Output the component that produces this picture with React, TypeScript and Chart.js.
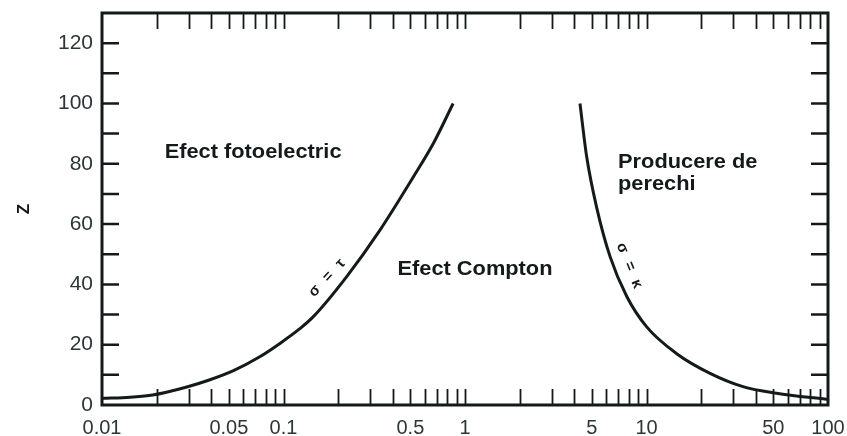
import React, { useEffect, useRef } from 'react';
import { Chart, registerables } from 'chart.js';

Chart.register(...registerables);

// Boundary σ = τ (photoelectric / Compton): photon energy (MeV) vs Z
const TAU_ENERGY = [0.01, 0.0143, 0.019, 0.029, 0.039, 0.053, 0.074, 0.096, 0.123, 0.146, 0.223, 0.34, 0.52, 0.67, 0.86];
const TAU_Z = [2.2, 2.6, 3.3, 5.9, 8.3, 11.4, 16, 20.5, 25.3, 29.3, 42.6, 58, 75.7, 86.8, 100];

// Boundary σ = κ (Compton / pair production)
const KAPPA_ENERGY = [4.3, 4.68, 5.3, 6.3, 7.8, 10, 14.6, 22.4, 34, 52, 100];
const KAPPA_Z = [100, 82.4, 65.8, 49.2, 35.9, 26, 17.1, 10.5, 6.1, 3.9, 1.8];

const X_TICK_LABELS = ['0.01', '0.05', '0.1', '0.5', '1', '5', '10', '50', '100'];
const Y_TICK_LABELS = [0, 20, 40, 60, 80, 100, 120];

const REGION_TEXTS = ['Efect fotoelectric', 'Efect Compton', 'Producere de', 'perechi'];
const REGION_ENERGY = [0.068, 1.135, 6.97, 6.97];
const REGION_Z = [83.6, 44.8, 80.3, 73];

const CURVE_TEXTS = ['σ = τ', 'σ = κ'];
const CURVE_TEXT_ENERGY = [0.176, 8.1];
const CURVE_TEXT_Z = [42.5, 45.8];

const FONT = '"Liberation Sans", Arial, Helvetica, sans-serif';
const INK = '#141a1a';
const LABEL_INK = '#2c3636';

const framePlugin = {
  id: 'frameAndNotes',
  afterDatasetsDraw(chart: any) {
    const { ctx, chartArea: a, scales } = chart;
    const xs = scales.x;
    const ys = scales.y;
    ctx.save();
    // frame
    ctx.strokeStyle = INK;
    ctx.lineWidth = 3;
    ctx.strokeRect(a.left, a.top, a.right - a.left, a.bottom - a.top);
    // inward x ticks (log minor ticks)
    const TL = 16;
    ctx.lineWidth = 1.8;
    ctx.beginPath();
    for (let e = -2; e <= 1; e++) {
      for (let k = 1; k <= 9; k++) {
        const v = k * Math.pow(10, e);
        const px = Math.round(xs.getPixelForValue(v)) + 0.5;
        if (px <= a.left + 2 || px >= a.right - 2) continue;
        ctx.moveTo(px, a.bottom);
        ctx.lineTo(px, a.bottom - TL);
        ctx.moveTo(px, a.top);
        ctx.lineTo(px, a.top + TL);
      }
    }
    ctx.stroke();
    // inward y ticks
    ctx.lineWidth = 2.5;
    ctx.beginPath();
    for (let v = 10; v <= 120; v += 10) {
      const py = ys.getPixelForValue(v);
      ctx.moveTo(a.left, py);
      ctx.lineTo(a.left + 17, py);
      ctx.moveTo(a.right, py);
      ctx.lineTo(a.right - 17, py);
    }
    ctx.stroke();

    // region texts
    ctx.fillStyle = INK;
    ctx.textBaseline = 'middle';
    ctx.font = `bold 20px ${FONT}`;
    REGION_TEXTS.forEach((t, i) => {
      const px = xs.getPixelForValue(REGION_ENERGY[i]);
      const py = ys.getPixelForValue(REGION_Z[i]);
      ctx.save();
      ctx.translate(px, py);
      ctx.scale(1.09, 1);
      ctx.textAlign = i >= 2 ? 'left' : 'center';
      ctx.fillText(t, 0, 0);
      ctx.restore();
    });

    // curve labels
    ctx.font = `bold 15px ${FONT}`;
    ctx.textAlign = 'center';
    try {
      (ctx as any).letterSpacing = '3px';
    } catch (e) {
      /* ignore */
    }
    const angles = [-47, 68];
    CURVE_TEXTS.forEach((t, i) => {
      const px = xs.getPixelForValue(CURVE_TEXT_ENERGY[i]);
      const py = ys.getPixelForValue(CURVE_TEXT_Z[i]);
      ctx.save();
      ctx.translate(px, py);
      ctx.rotate((angles[i] * Math.PI) / 180);
      ctx.fillText(t, 0, 0);
      ctx.restore();
    });
    ctx.restore();
  },
};

export default function App() {
  const ref = useRef<HTMLCanvasElement | null>(null);

  useEffect(() => {
    document.body.style.margin = '0';
    const canvas = ref.current;
    if (!canvas) return;
    const chart = new Chart(canvas, {
      type: 'scatter',
      data: {
        datasets: [
          {
            label: 'σ = τ',
            data: TAU_ENERGY.map((e, i) => ({ x: e, y: TAU_Z[i] })),
            showLine: true,
            borderColor: INK,
            borderWidth: 3,
            pointRadius: 0,
            cubicInterpolationMode: 'monotone',
          },
          {
            label: 'σ = κ',
            data: KAPPA_ENERGY.map((e, i) => ({ x: e, y: KAPPA_Z[i] })),
            showLine: true,
            borderColor: INK,
            borderWidth: 3,
            pointRadius: 0,
            cubicInterpolationMode: 'monotone',
          },
        ],
      },
      options: {
        animation: false,
        responsive: false,
        layout: { padding: { top: 13, right: 19, left: 0, bottom: 0 } },
        plugins: { legend: { display: false }, tooltip: { enabled: false } },
        scales: {
          x: {
            type: 'logarithmic',
            position: 'bottom',
            min: 0.01,
            max: 100,
            afterBuildTicks: (s: any) => {
              s.ticks = X_TICK_LABELS.map((t) => ({ value: parseFloat(t) }));
            },
            afterFit: (s: any) => {
              s.height = 31;
              s.paddingLeft = 0;
              s.paddingRight = 0;
              s.paddingTop = 0;
              s.paddingBottom = 0;
            },
            grid: { display: false, drawTicks: false, tickLength: 0 },
            border: { display: false },
            ticks: {
              autoSkip: false,
              maxRotation: 0,
              minRotation: 0,
              padding: 11,
              color: LABEL_INK,
              font: { family: FONT, size: 20 },
              callback: (_v: any, i: number) => X_TICK_LABELS[i],
            },
          },
          y: {
            min: 0,
            max: 130,
            afterBuildTicks: (s: any) => {
              s.ticks = Y_TICK_LABELS.map((v) => ({ value: v }));
            },
            afterFit: (s: any) => {
              s.width = 102;
              s.paddingLeft = 0;
              s.paddingRight = 0;
              s.paddingTop = 0;
              s.paddingBottom = 0;
            },
            grid: { display: false, drawTicks: false, tickLength: 0 },
            border: { display: false },
            ticks: {
              padding: 9,
              color: LABEL_INK,
              font: { family: FONT, size: 21 },
              callback: (_v: any, i: number) => String(Y_TICK_LABELS[i]),
            },
            title: {
              display: true,
              text: 'Z',
              color: INK,
              font: { family: FONT, size: 17, weight: 'bold' },
              padding: { top: 14, bottom: 0 },
            },
          },
        },
      } as any,
      plugins: [framePlugin],
    });
    return () => chart.destroy();
  }, []);

  return (
    <div style={{ width: 847, height: 436, background: '#fff' }}>
      <canvas ref={ref} width={847} height={436} style={{ display: 'block' }} />
    </div>
  );
}
